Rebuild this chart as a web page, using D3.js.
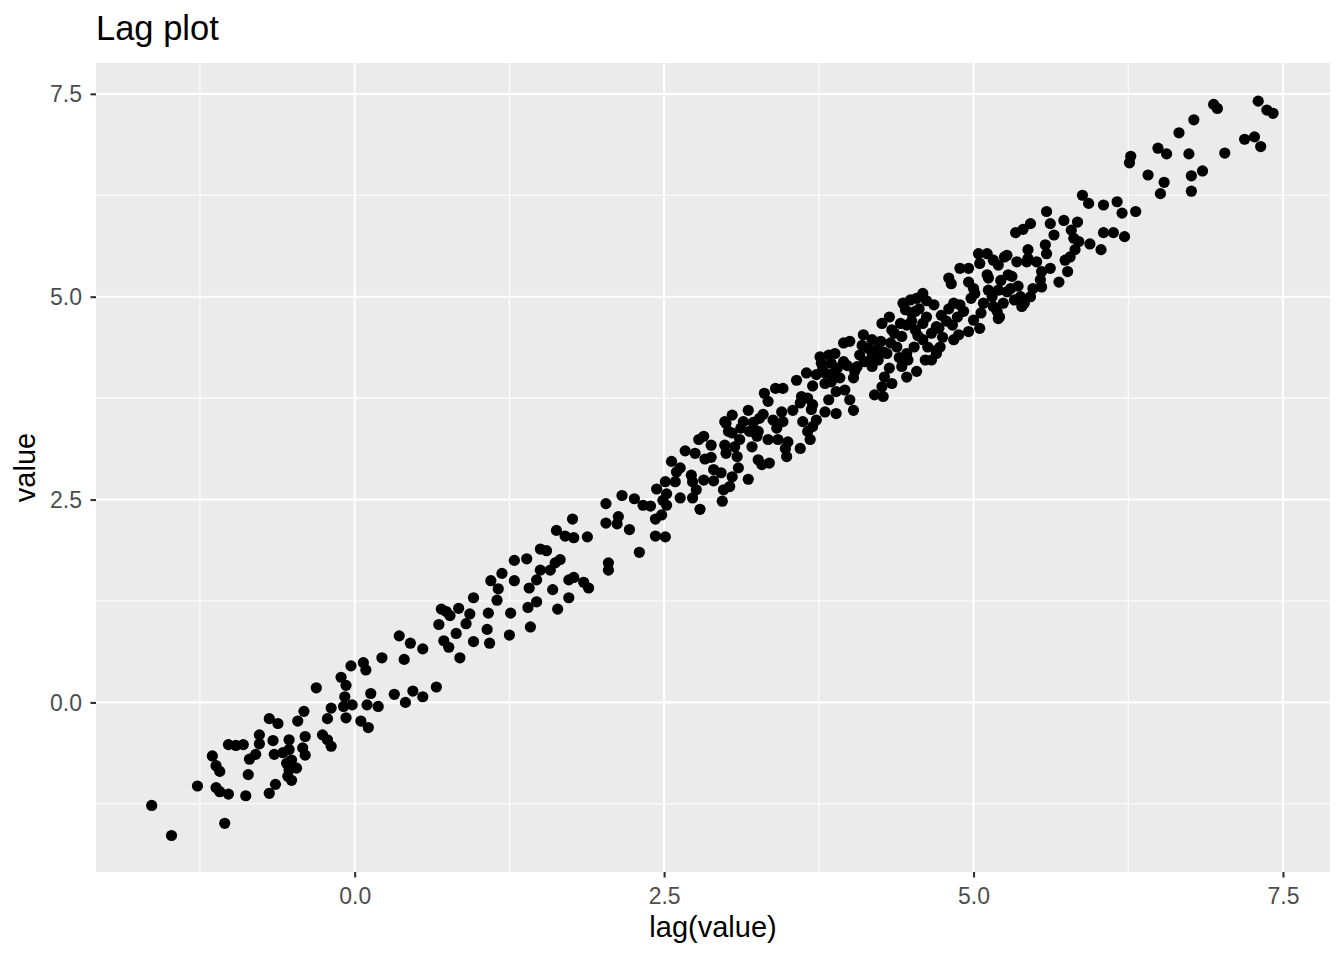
<!DOCTYPE html>
<html>
<head>
<meta charset="utf-8">
<script src="https://cdn.jsdelivr.net/npm/d3@7"></script>
<style>
  html, body { margin: 0; padding: 0; background: #ffffff; }
  svg { display: block; }
  text { font-family: "Liberation Sans", Arial, Helvetica, sans-serif; }
</style>
</head>
<body>
<svg id="chart" width="1344" height="960"></svg>
<script>
// ---- data ----
const title = "Lag plot";
const xLabel = "lag(value)";
const yLabel = "value";
const majorTicks = [0, 2.5, 5, 7.5];
const minorTicks = [-1.25, 1.25, 3.75, 6.25];
const tickLabels = ["0.0", "2.5", "5.0", "7.5"];

const lagValue = [
-1.64,-1.48,-1.27,-1.05,-1.15,-1.12,-1.09,-1.12,-1.09,-1.02,-1.02,-0.96,-0.90,-0.86,-0.88,-0.85,-0.80,-0.77,-0.77,-0.69,
-0.62,-0.66,-0.65,-0.64,-0.69,-0.53,-0.53,-0.55,-0.51,-0.53,-0.47,-0.54,-0.51,-0.58,-0.40,-0.42,-0.40,-0.46,-0.41,-0.26,
-0.22,-0.19,-0.22,-0.19,-0.07,-0.08,-0.02,-0.09,-0.31,
-0.11,-0.03,-0.07,0.07,0.09,0.05,0.11,0.10,0.13,0.19,0.22,0.32,0.41,0.47,0.55,0.66,0.36,0.45,0.55,0.40,
0.68,0.70,0.74,0.77,0.84,0.96,0.93,0.90,0.82,0.72,0.76,0.85,0.96,1.08,1.07,1.09,
1.15,1.10,1.16,1.19,1.26,1.25,1.29,1.29,1.39,1.42,1.40,1.47,1.41,1.47,1.50,1.50,1.55,1.58,1.62,1.66,
1.60,1.64,1.73,1.73,1.77,1.85,1.89,1.63,1.70,1.77,1.76,1.88,2.05,2.05,2.03,2.03,2.12,2.13,
2.22,2.16,2.26,2.33,2.39,2.43,2.51,2.43,2.48,2.44,2.51,2.52,2.52,2.49,2.59,2.56,2.60,2.63,2.63,2.67,
2.73,2.79,2.76,2.72,2.73,2.82,2.78,2.82,2.88,2.75,2.83,2.88,2.90,2.90,2.96,2.98,3.03,2.97,3.05,3.10,
2.99,3.00,3.05,3.00,3.07,2.30,
2.99,3.05,3.02,3.09,3.18,3.14,3.19,3.11,3.21,3.27,3.26,3.18,3.26,3.29,3.35,3.31,3.34,3.40,3.46,3.34,
3.41,3.42,3.45,3.46,3.48,3.50,3.49,3.60,3.54,3.57,3.65,3.61,3.66,3.60,3.70,3.69,3.62,3.66,3.70,3.68,
3.73,3.80,3.73,3.80,3.85,3.83,3.89,3.77,3.85,3.89,
3.80,3.96,4.00,4.03,3.76,3.83,3.88,3.95,4.00,3.95,4.04,4.03,4.08,4.11,4.18,4.15,4.18,4.23,4.27,4.18,
4.20,4.26,4.28,4.32,4.34,4.27,4.26,4.32,4.34,4.41,4.42,4.38,4.33,4.46,4.47,4.42,4.46,4.54,4.50,4.53,
4.59,4.59,4.63,4.61,4.66,4.70,4.70,
4.80,4.82,4.89,4.96,5.04,5.11,5.05,5.11,4.96,5.00,5.01,4.98,5.16,5.20,5.25,5.28,5.20,5.15,5.24,5.19,
5.16,5.21,5.27,4.59,4.54,4.49,4.43,4.45,4.53,4.74,4.72,4.84,4.89,4.92,4.87,4.83,4.88,4.84,5.00,5.05,
4.96,4.46,4.52,4.73,4.70,
5.59,5.62,5.73,5.84,5.65,5.79,5.81,5.85,5.93,6.05,6.16,6.20,6.05,6.13,6.22,5.94,6.03,5.46,5.40,5.34,
5.58,5.59,5.44,5.82,5.78,5.74,5.62,5.76,5.69,5.55,5.54,5.55,5.48,5.46,5.38,5.36,5.31,5.43,5.51,5.44,
5.35,5.27,5.12,5.41,5.39,5.33,5.20,5.88,
7.30,7.37,7.42,6.94,6.97,6.78,6.66,6.49,6.56,6.74,6.27,6.26,7.03,7.19,7.27,7.32,6.41,6.54,6.51,6.76,
6.85,6.76,6.31,
3.78,3.90,3.92,3.86,3.70,3.98,4.10,4.22,4.12,4.25,4.36,4.40,4.30,4.06,4.50,4.62,4.66,4.56,4.68,4.78,
4.80,4.62,4.75,4.55,3.12,3.22,3.30,3.38,3.25,5.08,5.12,5.30,5.22,5.06
];
const value = [
-1.27,-1.64,-1.03,-1.49,-0.66,-0.78,-0.85,-1.05,-1.10,-1.13,-0.52,-0.53,-0.52,-0.89,-1.15,-0.70,-0.64,-0.40,-0.51,-0.20,
-0.26,-0.47,-0.64,-1.01,-1.12,-0.46,-0.58,-0.75,-0.71,-0.83,-0.81,-0.91,-0.96,-0.62,-0.42,-0.56,-0.65,-0.23,-0.11,-0.40,
-0.46,-0.54,-0.20,-0.07,-0.19,0.07,-0.03,-0.05,0.18,
0.31,0.45,0.21,0.49,0.40,-0.23,-0.31,-0.03,0.11,-0.05,0.55,0.10,0.00,0.14,0.07,0.19,0.82,0.73,0.66,0.53,
0.96,1.15,1.12,1.07,1.16,1.29,1.09,0.97,0.85,0.76,0.68,0.55,0.75,1.10,0.90,0.73,
1.26,1.50,1.40,1.59,1.10,0.83,1.50,1.75,1.77,0.93,1.17,1.24,1.41,1.51,1.63,1.89,1.87,1.63,1.72,1.76,
1.39,1.15,1.29,1.51,1.54,1.48,1.41,2.12,2.05,2.03,2.26,2.04,1.72,1.63,2.21,2.45,2.20,2.29,
2.13,2.55,2.51,2.43,2.42,2.05,2.04,2.26,2.31,2.63,2.72,2.57,2.43,2.49,2.72,2.97,2.84,2.89,2.52,3.10,
2.52,2.38,2.62,2.80,2.72,2.74,3.24,3.28,3.17,3.07,3.00,3.02,2.87,2.73,2.83,2.62,2.66,2.48,2.78,2.89,
3.17,3.07,3.32,3.44,3.15,1.85,
3.46,3.54,3.34,3.03,3.60,3.46,3.34,3.24,3.15,3.50,3.34,2.75,2.99,2.93,2.95,3.81,3.71,3.87,3.87,3.24,
3.38,3.24,3.58,3.46,3.13,3.21,3.03,3.13,3.60,3.97,4.06,3.77,3.75,3.69,3.67,3.61,3.46,3.34,3.40,3.24,
3.48,3.58,4.04,4.06,3.95,3.73,3.83,4.18,4.18,3.56,
3.93,3.85,3.73,3.60,4.26,4.28,4.30,4.43,4.45,4.20,4.08,4.00,4.28,4.53,4.47,4.36,4.26,4.22,4.32,4.14,
3.79,3.89,4.01,4.12,3.93,3.77,4.67,4.75,4.59,4.67,4.51,4.38,4.43,4.30,4.22,4.14,4.01,4.08,4.80,4.59,
4.67,4.47,4.38,4.22,4.22,4.63,4.34,
5.23,5.16,5.35,5.35,5.53,5.53,5.41,5.27,5.18,5.10,5.04,4.98,5.45,5.39,5.49,5.27,5.08,5.00,4.92,4.82,
4.88,4.75,5.06,5.04,4.98,4.96,4.92,4.84,4.82,4.77,4.61,4.92,4.90,4.82,4.75,4.65,4.53,4.47,4.71,4.61,
4.57,4.65,4.38,4.38,4.30,
6.05,5.90,5.94,5.92,5.76,5.82,5.72,5.68,6.15,6.13,6.17,6.03,5.79,5.79,5.74,5.65,5.58,5.90,5.83,5.79,
5.64,5.53,5.58,5.58,5.49,5.45,5.35,5.31,5.18,5.31,5.21,5.12,5.10,5.00,5.00,5.13,5.25,5.43,5.43,5.47,
5.43,5.51,5.23,4.92,4.88,4.96,4.73,6.25,
7.41,7.30,7.26,7.37,7.32,7.18,7.02,6.83,6.76,6.76,6.73,6.65,6.77,6.94,6.97,6.85,6.50,6.41,6.27,6.49,
6.55,6.30,6.05,
4.10,4.12,4.00,4.05,3.90,4.15,4.40,4.35,4.20,4.45,4.55,4.25,4.30,4.14,4.70,4.75,4.55,4.85,4.90,4.70,
4.85,4.95,4.50,4.52,3.38,3.45,3.55,3.48,3.28,4.92,5.08,5.10,5.20,4.80
];

// ---- layout ----
const svg = d3.select("#chart");
const panel = { left: 96, right: 1330, top: 63, bottom: 872 };
const domain = [-2.09, 7.88];

const x = d3.scaleLinear().domain(domain).range([panel.left, panel.right]);
const y = d3.scaleLinear().domain(domain).range([panel.bottom, panel.top]);

// panel background
svg.append("rect")
  .attr("x", panel.left).attr("y", panel.top)
  .attr("width", panel.right - panel.left).attr("height", panel.bottom - panel.top)
  .attr("fill", "#EBEBEB");

const grid = svg.append("g");
// minor grid
grid.selectAll("line.vminor").data(minorTicks).join("line")
  .attr("x1", d => x(d)).attr("x2", d => x(d))
  .attr("y1", panel.top).attr("y2", panel.bottom)
  .attr("stroke", "#ffffff").attr("stroke-width", 1.07);
grid.selectAll("line.hminor").data(minorTicks).join("line")
  .attr("y1", d => y(d)).attr("y2", d => y(d))
  .attr("x1", panel.left).attr("x2", panel.right)
  .attr("stroke", "#ffffff").attr("stroke-width", 1.07);
// major grid
grid.selectAll("line.vmajor").data(majorTicks).join("line")
  .attr("x1", d => x(d)).attr("x2", d => x(d))
  .attr("y1", panel.top).attr("y2", panel.bottom)
  .attr("stroke", "#ffffff").attr("stroke-width", 2.13);
grid.selectAll("line.hmajor").data(majorTicks).join("line")
  .attr("y1", d => y(d)).attr("y2", d => y(d))
  .attr("x1", panel.left).attr("x2", panel.right)
  .attr("stroke", "#ffffff").attr("stroke-width", 2.13);

// points
const pts = d3.range(lagValue.length).map(i => ({ lx: lagValue[i], v: value[i] }));
svg.append("g").selectAll("circle").data(pts).join("circle")
  .attr("cx", d => x(d.lx)).attr("cy", d => y(d.v))
  .attr("r", 5.6).attr("fill", "#000000");

// axes
const fmt = (d) => tickLabels[majorTicks.indexOf(d)];
const xAxis = d3.axisBottom(x).tickValues(majorTicks).tickFormat(fmt).tickSize(5.5).tickPadding(5);
const yAxis = d3.axisLeft(y).tickValues(majorTicks).tickFormat(fmt).tickSize(5.5).tickPadding(5);

const gx = svg.append("g").attr("transform", `translate(0,${panel.bottom})`).call(xAxis);
const gy = svg.append("g").attr("transform", `translate(${panel.left},0)`).call(yAxis);
[gx, gy].forEach(g => {
  g.select(".domain").remove();
  g.selectAll(".tick line").attr("stroke", "#333333").attr("stroke-width", 2.13);
  g.selectAll(".tick text")
    .attr("fill", "#4D4D4D")
    .style("font-size", "23px")
    .style("font-family", '"Liberation Sans", Arial, Helvetica, sans-serif');
});
gx.selectAll(".tick text").attr("dy", "0").attr("y", 32);
gy.selectAll(".tick text").attr("x", -14).attr("dy", "0.35em");

// titles
svg.append("text")
  .attr("x", 96).attr("y", 40)
  .attr("fill", "#000000")
  .style("font-size", "34.5px")
  .text(title);

svg.append("text")
  .attr("x", (panel.left + panel.right) / 2).attr("y", 937)
  .attr("text-anchor", "middle")
  .attr("fill", "#000000")
  .style("font-size", "29px")
  .text(xLabel);

svg.append("text")
  .attr("transform", `translate(35,${(panel.top + panel.bottom) / 2}) rotate(-90)`)
  .attr("text-anchor", "middle")
  .attr("fill", "#000000")
  .style("font-size", "29px")
  .text(yLabel);
</script>
</body>
</html>
